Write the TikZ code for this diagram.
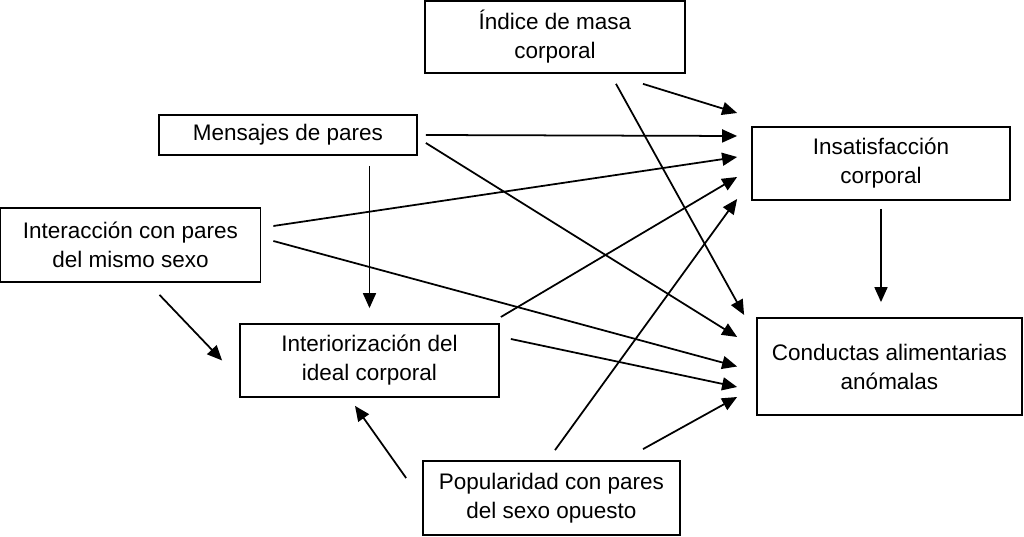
\documentclass[tikz,border=0pt]{standalone}
\usepackage{fontspec}
\setmainfont{Liberation Sans}
\usetikzlibrary{arrows.meta,calc}

\begin{document}
\begin{tikzpicture}[every node/.style={font=\fontsize{12.8}{16.5}\selectfont},
  box/.style={draw, rectangle, line width=1pt, inner sep=0pt, align=center},
  arr/.style={-{Triangle[length=0.3cm, width=0.26cm]}, line width=1pt}]
\useasboundingbox (0,0) rectangle (20.48,10.74);
% Boxes
\node[box, minimum width=5.2cm, minimum height=1.44cm] (indice) at (11.10,10.00) {Índice de masa\\corporal};
\node[box, minimum width=5.16cm, minimum height=0.8cm] (mensajes) at (5.76,8.04) {Mensajes de pares};
\node[box, minimum width=5.16cm, minimum height=1.46cm] (insat) at (17.62,7.47) {Insatisfacción\\corporal};
\node[box, minimum width=5.2cm, minimum height=1.48cm] (interaccion) at (2.61,5.84) {Interacción con pares\\del mismo sexo};
\node[box, minimum width=5.18cm, minimum height=1.46cm] (interior) at (7.39,3.53) {Interiorización del\\ideal corporal};
\node[box, minimum width=5.3cm, minimum height=1.94cm] (conductas) at (17.79,3.41) {Conductas alimentarias\\anómalas};
\node[box, minimum width=5.14cm, minimum height=1.48cm] (popularidad) at (11.03,0.78) {Popularidad con pares\\del sexo opuesto};

% Arrow ends
\coordinate (ins1) at ($(insat.west)+(-0.28,1.01)$);
\coordinate (ins2) at ($(insat.west)+(-0.28,0.55)$);
\coordinate (ins3) at ($(insat.west)+(-0.28,0.13)$);
\coordinate (ins4) at ($(insat.west)+(-0.28,-0.27)$);
\coordinate (ins5) at ($(insat.west)+(-0.28,-0.71)$);
\coordinate (con1) at ($(conductas.west)+(-0.24,1.03)$);
\coordinate (con2) at ($(conductas.west)+(-0.38,0.59)$);
\coordinate (con3) at ($(conductas.west)+(-0.38,0)$);
\coordinate (con4) at ($(conductas.west)+(-0.38,-0.41)$);
\coordinate (con5) at ($(conductas.west)+(-0.38,-0.61)$);

% Arrows
\draw[arr] ($(indice.south)+(1.76,-0.2)$) -- (ins1);
\draw[arr] ($(indice.south)+(1.22,-0.2)$) -- (con1);
\draw[arr] ($(mensajes.east)+(0.16,0)$) -- (ins2);
\draw[arr] ($(mensajes.east)+(0.16,-0.16)$) -- (con2);
\draw[arr] ([yshift=-0.2cm]mensajes.south -| interior.north) -- ([yshift=0.3cm]interior.north);
\draw[arr] ($(interaccion.east)+(0.24,0.38)$) -- (ins3);
\draw[arr] ($(interaccion.east)+(0.24,0.08)$) -- (con3);
\draw[arr] ($(interaccion.south)+(0.58,-0.24)$) -- ($(interior.west)+(-0.34,0)$);
\draw[arr] ($(interior.east)+(0.02,0.87)$) -- (ins4);
\draw[arr] ($(interior.east)+(0.22,0.43)$) -- (con4);
\draw[arr] ($(popularidad.north)+(0.07,0.2)$) -- (ins5);
\draw[arr] ($(popularidad.north)+(1.83,0.22)$) -- (con5);
\draw[arr] ($(popularidad.west)+(-0.32,0.4)$) -- ($(interior.south)+(-0.29,-0.16)$);
\draw[arr] ([yshift=-0.16cm]insat.south) -- ([yshift=0.3cm]insat.south |- conductas.north);
\end{tikzpicture}
\end{document}
